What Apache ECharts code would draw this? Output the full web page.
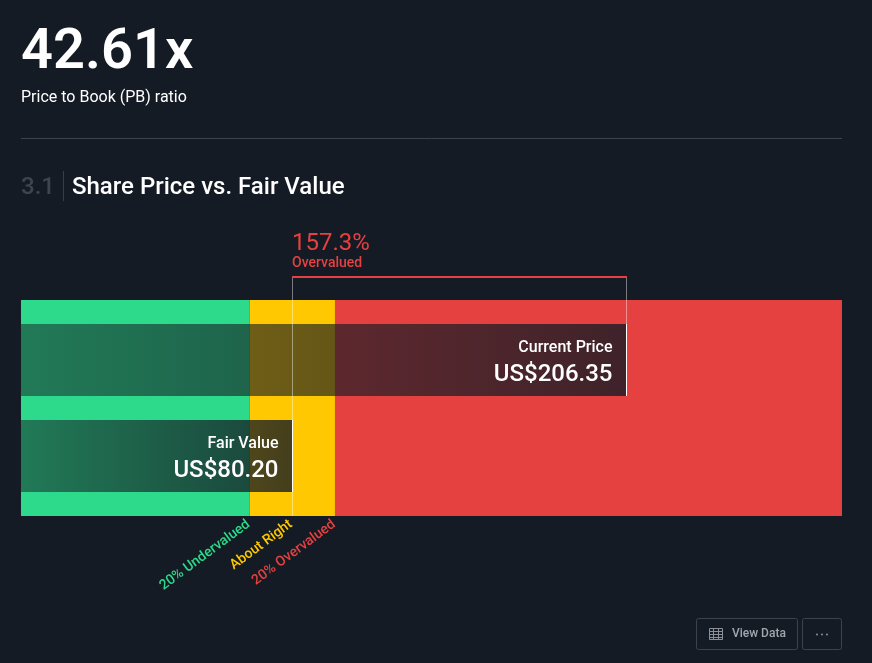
<!DOCTYPE html>
<html>
<head>
<meta charset="utf-8">
<style>html,body{margin:0;padding:0;background:#151b24}#c{width:872px;height:663px}</style>
<script src="https://cdn.jsdelivr.net/npm/echarts@6/dist/echarts.min.js"></script>
</head>
<body>
<div id="c"></div>
<script>
const categories = ['Current Price', 'Fair Value'];
const priceValues = [206.35, 80.20];
const priceLabels = ['US$206.35', 'US$80.20'];
const zoneNames = ['20% Undervalued', 'About Right', '20% Overvalued'];
const zoneStarts = [-22.0, 64.16, 96.4];
const zoneEnds = [64.16, 96.4, 287.6];
const axisMin = -22.0;
const axisMax = 287.6;
const headlineValue = '42.61x';
const headlineLabel = 'Price to Book (PB) ratio';
const sectionNumber = '3.1';
const sectionTitle = 'Share Price vs. Fair Value';
const gapValue = '157.3%';
const gapLabel = 'Overvalued';

const BG = '#151b24', GREEN = '#2dd98a', YELLOW = '#ffc800', RED = '#e64141';
const zoneColors = [GREEN, YELLOW, RED];
const FONT = 'Roboto, sans-serif';
const chart = echarts.init(document.getElementById('c'), null, {renderer: 'canvas'});

function txt(x, y, text, size, weight, fill, extra) {
  return {type: 'text', x, y, silent: true, style: Object.assign({
    text, fill, font: weight + ' ' + size + 'px ' + FONT, verticalAlign: 'middle'}, extra || {})};
}
function rectStroke(x, y, w, h) {
  return {type: 'rect', shape: {x, y, width: w, height: h, r: 2}, style: {fill: 'transparent', stroke: '#3d434c', lineWidth: 1}};
}
function hl(x1, x2, y, c) { return {type: 'line', shape: {x1, y1: y, x2, y2: y}, style: {stroke: c, lineWidth: 1}}; }
function vl(x, y1, y2, c) { return {type: 'line', shape: {x1: x, y1, x2: x, y2}, style: {stroke: c, lineWidth: 1}}; }
function dot(cx, cy) { return {type: 'circle', shape: {cx, cy, r: 1}, style: {fill: '#8c9096'}}; }

const iconC = '#8c9096';
const graphicElements = [
  txt(21, 54, headlineValue, 56, 600, '#ffffff'),
  txt(21, 97.5, headlineLabel, 16, 400, '#ffffff'),
  hl(21, 842, 138.5, '#3d434c'),
  txt(21, 187.5, sectionNumber, 24, 500, '#3f444d'),
  vl(63.5, 171, 201, '#383e47'),
  txt(72, 187.5, sectionTitle, 24, 500, '#ffffff'),
  txt(292, 244, gapValue, 24, 400, RED),
  txt(292, 263, gapLabel, 14, 500, RED),
  rectStroke(696.5, 618.5, 101, 31),
  rectStroke(802.5, 618.5, 39, 31),
  {type: 'rect', shape: {x: 709.5, y: 628.5, width: 13, height: 11}, style: {fill: 'transparent', stroke: iconC, lineWidth: 1}},
  hl(709.5, 722.5, 631.5, iconC), hl(709.5, 722.5, 634.5, iconC), hl(709.5, 722.5, 637.5, iconC),
  vl(713.5, 628.5, 639.5, iconC), vl(718.5, 628.5, 639.5, iconC),
  txt(732, 634, 'View Data', 12, 500, '#a3a6ab'),
  dot(817, 634.5), dot(822, 634.5), dot(827, 634.5)
];

function renderZone(params, api) {
  const cs = params.coordSys;
  const a = api.coord([api.value(0), 0])[0];
  const b = api.coord([api.value(1), 0])[0];
  const i = params.dataIndex;
  const anchor = i === 1 ? api.coord([priceValues[1], 0])[0] - 1 : (i === 0 ? b - 1 : a - 1);
  return {type: 'group', children: [
    {type: 'rect', shape: {x: a, y: cs.y - 12, width: b - a, height: cs.height + 24}, style: {fill: zoneColors[i]}},
    {type: 'text', x: anchor, y: cs.y + cs.height + 19, originX: 0, originY: 0,
     rotation: 36.5 * Math.PI / 180, z2: 5,
     style: {text: zoneNames[i], fill: zoneColors[i], font: '500 14px ' + FONT, align: 'right', verticalAlign: 'middle'}}
  ]};
}
function renderOverlay(params, api) {
  const x0 = api.coord([axisMin, 0])[0];
  const c = api.coord([api.value(0), api.value(1)]);
  const half = api.size([0, 1])[1] * 0.375;
  const right = Math.floor(c[0]) + 1;
  const i = params.dataIndex;
  return {type: 'group', children: [
    {type: 'rect', shape: {x: x0, y: c[1] - half, width: right - x0, height: half * 2},
     style: {fill: {type: 'linear', x: 0, y: 0, x2: 1, y2: 0, colorStops: [
       {offset: 0, color: 'rgba(21,27,36,0.5)'}, {offset: 1, color: 'rgba(21,27,36,0.8)'}]}}},
    {type: 'text', x: right - 14.5, y: c[1] - 12, z2: 5,
     style: {text: categories[i], fill: '#fff', font: '500 16px ' + FONT, align: 'right', verticalAlign: 'middle'}},
    {type: 'text', x: right - 14.5, y: c[1] + 14.5, z2: 5,
     style: {text: priceLabels[i], fill: '#fff', font: '500 24px ' + FONT, align: 'right', verticalAlign: 'middle'}}
  ]};
}
function renderMarker(params, api) {
  const cs = params.coordSys;
  const x = Math.floor(api.coord([api.value(0), 0])[0]) + 0.5;
  const c = api.coord([api.value(0), api.value(1)]);
  const half = api.size([0, 1])[1] * 0.375;
  const top = cs.y - 35, soft = 'rgba(255,255,255,0.42)';
  const kids = [
    vl(x, top, c[1] - half, soft),
    vl(x, c[1] - half, c[1] + half, '#ffffff')
  ];
  if (params.dataIndex === 1) kids.push(vl(x, c[1] + half, cs.y + cs.height + 12, soft));
  return {type: 'group', children: kids};
}
function renderBracket(params, api) {
  const cs = params.coordSys;
  const a = Math.floor(api.coord([api.value(0), 0])[0]);
  const b = Math.floor(api.coord([api.value(1), 0])[0]) + 1;
  return {type: 'rect', shape: {x: a, y: cs.y - 36, width: b - a, height: 2}, style: {fill: RED}};
}

chart.setOption({
  animation: false,
  backgroundColor: BG,
  tooltip: {show: false},
  grid: {left: 21, width: 821, top: 312, height: 192},
  xAxis: {type: 'value', min: axisMin, max: axisMax, show: false},
  yAxis: {type: 'category', data: categories, inverse: true, show: false},
  graphic: {elements: graphicElements},
  series: [
    {type: 'custom', z: 1, silent: true, renderItem: renderZone, clip: false,
     encode: {x: [0, 1], y: 2},
     data: zoneStarts.map((s, i) => [s, zoneEnds[i], 0])},
    {type: 'custom', z: 2, silent: true, renderItem: renderOverlay, clip: false,
     encode: {x: 0, y: 1},
     data: priceValues.map((v, i) => [v, i])},
    {type: 'custom', z: 3, silent: true, renderItem: renderMarker, clip: false,
     encode: {x: 0, y: 1},
     data: priceValues.map((v, i) => [v, i])},
    {type: 'custom', z: 3, silent: true, renderItem: renderBracket, clip: false,
     encode: {x: [0, 1], y: 2},
     data: [[priceValues[1], priceValues[0], 0]]}
  ]
});
</script>
</body>
</html>
